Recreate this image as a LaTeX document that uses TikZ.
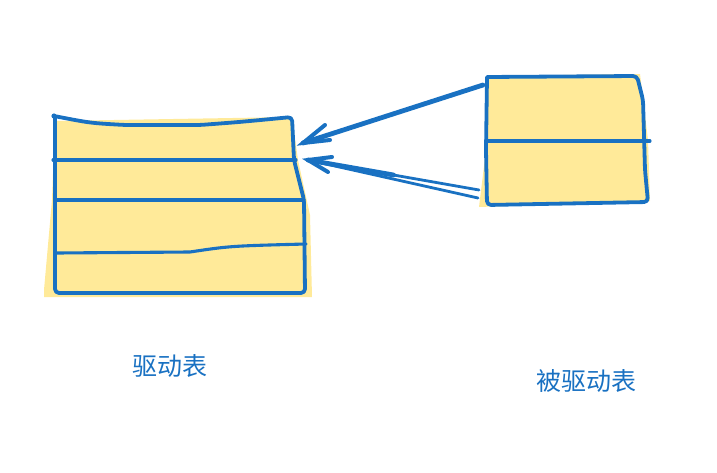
\documentclass[tikz,border=0pt]{standalone}
\usepackage{fontspec}
\usetikzlibrary{calc}
\newfontfamily\cjk{Noto Sans CJK SC}
\definecolor{inkblue}{HTML}{1971C2}
\definecolor{paper}{HTML}{FFEA99}
\begin{document}
\begin{tikzpicture}[x=1pt,y=-1pt,
  outline/.style={draw=inkblue,line width=3.8pt,line cap=round,line join=round,rounded corners=4pt},
  rowline/.style={draw=inkblue,line width=3.1pt,line cap=round},
  shaft/.style={draw=inkblue,line width=4.8pt,line cap=round},
  thinshaft/.style={draw=inkblue,line width=2.8pt,line cap=round},
  barb/.style={draw=inkblue,line width=4pt,line cap=round},
  caption/.style={font=\cjk\fontsize{25}{30}\selectfont,text=inkblue,inner sep=0pt}]
\useasboundingbox (0,0) rectangle (717,473);

% --- driving table (left) ---
\fill[paper] (55,121) -- (292,117) -- (298,160) -- (310,215) -- (312,297) -- (44,297) -- (44,290) -- (52,200) -- cycle;
\draw[outline] (54,116) .. controls (90,123) .. (125,125) -- (200,125) .. controls (240,122) .. (292,117)
  -- (294,160) -- (304,200) -- (305,293) -- (55,293) -- (55,116);
\fill[inkblue] (54,116) circle (2.6pt);
\draw[rowline] (53,160) -- (296,160);
\draw[rowline] (57,200) -- (304,200);
\draw[rowline] (57,253) -- (190,252) .. controls (230,246) .. (306,244);

% --- driven table (right) ---
\fill[paper] (487,76) -- (640,74) -- (648,140) -- (650,201) -- (479,207) -- (486,150) -- cycle;
\draw[outline] (487,77) -- (637,76) -- (643,100) -- (645,170) -- (648,202) -- (487,205) -- (486,150) -- (487,77);
\draw[rowline] (487,141) -- (650,141);

% --- arrows ---
\coordinate (a1s) at (483,85);
\coordinate (a1t) at (303,143);
\coordinate (a1b1) at (325,125);
\coordinate (a1b2) at (330,140);
\draw[shaft] (a1s) -- (a1t);
\draw[barb] (a1b1) -- (a1t) -- (a1b2);

\coordinate (a2s) at (479,190);
\coordinate (a2u) at (478,198);
\coordinate (a2t) at (308,160);
\coordinate (a2b1) at (332,157);
\coordinate (a2b2) at (328,172);
\draw[thinshaft] (a2s) -- (a2t);
\draw[thinshaft] (a2u) -- (a2t);
\draw[shaft] ($(a2t)!0.5!(a2s)$) -- (a2t);
\draw[barb] (a2b1) -- (a2t) -- (a2b2);

% --- captions ---
\node[caption] (cap1) at (170,366) {驱动表};
\node[caption] (cap2) at (586,381) {被驱动表};
\end{tikzpicture}
\end{document}
